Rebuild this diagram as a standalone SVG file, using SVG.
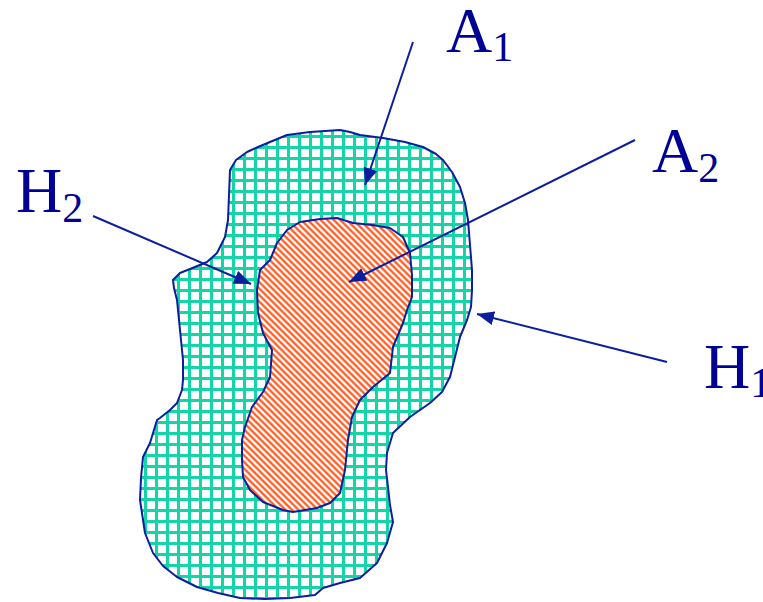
<svg xmlns="http://www.w3.org/2000/svg" width="763" height="602" viewBox="0 0 763 602">
<style>
.outline{stroke:#0B1E9E;stroke-width:2;stroke-linejoin:round}
.conn{stroke:#0B1E9E;stroke-width:2;fill:none}
.lbl{font-family:"Liberation Serif","Times New Roman",serif;font-size:64px;fill:#000094}
.sub{font-size:42px}
</style>
<defs>
<pattern id="grid" patternUnits="userSpaceOnUse" width="11" height="11">
<rect x="0" y="0" width="11" height="11" fill="#ffffff"/>
<rect x="1" y="0" width="3" height="11" fill="#14D4A8"/>
<rect x="0" y="3" width="11" height="3" fill="#14D4A8"/>
</pattern>
<pattern id="hatch" patternUnits="userSpaceOnUse" width="4.6" height="4.6" patternTransform="rotate(-45)">
<rect x="0" y="0" width="4.6" height="4.6" fill="#ffffff"/>
<line x1="2.3" y1="0" x2="2.3" y2="4.6" stroke="#FF4D0D" stroke-width="2.1"/>
</pattern>
<marker id="ah" markerUnits="userSpaceOnUse" viewBox="0 0 17 14" refX="17" refY="7" markerWidth="17" markerHeight="14" orient="auto">
<path d="M0,0 L17,7 L0,14 z" fill="#0B1E9E"/>
</marker>
</defs>
<g id="region-A1">
<path class="outline" fill="url(#grid)" d="M230,170 L236,160 L247,152 L258,147 L270,142 L287,135 L310,132 L340,130 L350,132 L360,135 L383,138 L405,142 L423,147 L436,154 L443,160 L452,172 L460,187 L465,203 L468,220 L470,245 L472,270 L472,290 L471,307 L467,320 L460,337 L455,357 L450,377 L442,392 L430,403 L410,417 L393,433 L387,453 L386,470 L388,487 L390,505 L393,522 L387,543 L377,563 L360,578 L340,583 L323,588 L315,595 L290,598 L265,599 L240,598 L218,593 L197,587 L177,577 L163,566 L153,553 L145,533 L140,500 L141,478 L143,457 L150,443 L157,420 L160,418 L170,410 L177,403 L182,390 L183,380 L183,360 L180,330 L177,300 L174,288 L173,280 L180,273 L195,267 L207,262 L217,253 L225,237 L228,220 L229,195 Z"/>
</g>
<g id="region-A2">
<path class="outline" fill="url(#hatch)" d="M260,270 L270,260 L277,243 L287,230 L300,222 L320,219 L337,218 L353,223 L372,225 L390,228 L403,237 L410,253 L412,275 L412,297 L407,310 L403,323 L393,347 L390,373 L373,387 L360,400 L352,417 L348,440 L345,470 L340,493 L330,503 L317,508 L293,512 L283,510 L263,502 L250,490 L243,477 L242,460 L242,440 L245,427 L252,407 L263,392 L270,377 L272,350 L263,333 L258,313 L257,290 Z"/>
</g>
<g id="connectors">
<line class="conn" x1="413" y1="42" x2="365" y2="185" marker-end="url(#ah)"/>
<line class="conn" x1="635" y1="140" x2="349" y2="282" marker-end="url(#ah)"/>
<line class="conn" x1="93" y1="216" x2="251" y2="284" marker-end="url(#ah)"/>
<line class="conn" x1="667" y1="362" x2="477" y2="314" marker-end="url(#ah)"/>
</g>
<g id="label-A1"><text class="lbl" x="446" y="52">A<tspan class="sub" dy="9">1</tspan></text></g>
<g id="label-A2"><text class="lbl" x="652" y="172">A<tspan class="sub" dy="10">2</tspan></text></g>
<g id="label-H2"><text class="lbl" x="16" y="212">H<tspan class="sub" dy="10">2</tspan></text></g>
<g id="label-H1"><text class="lbl" x="704" y="388">H<tspan class="sub" dy="9">1</tspan></text></g>
</svg>
